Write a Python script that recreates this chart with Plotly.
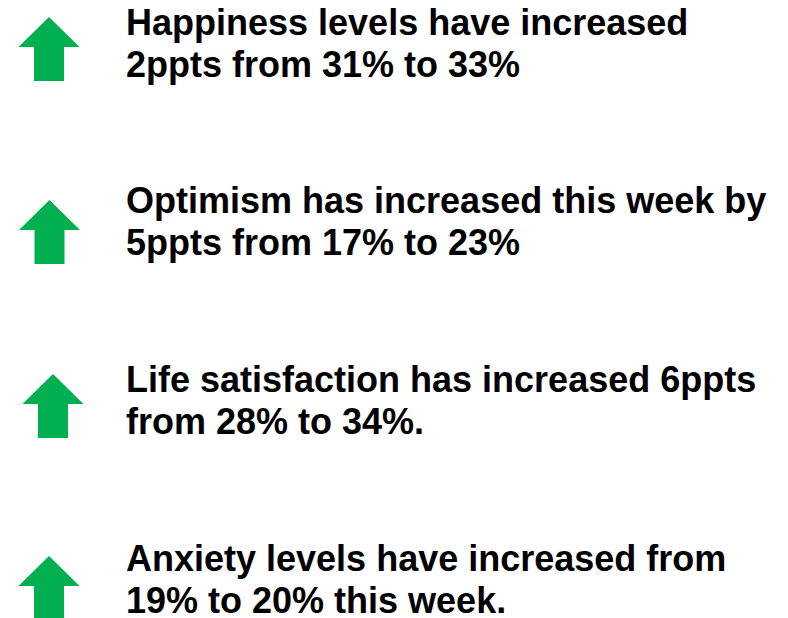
import plotly.graph_objects as go

# Statements and the direction of change shown next to each one
messages = [
    "Happiness levels have increased<br>2ppts from 31% to 33%",
    "Optimism has increased this week by<br>5ppts from 17% to 23%",
    "Life satisfaction has increased 6ppts<br>from 28% to 34%.",
    "Anxiety levels have increased from<br>19% to 20% this week.",
]
directions = ["up", "up", "up", "up"]

GREEN = "#00B050"
W, H = 788, 618

# layout positions (page pixels)
arrow_x = [41, 41.5, 45, 41]
arrow_y = [41, 224, 398, 580]
text_first_line_y = [18, 196, 375, 554]
LINE_PITCH = 42
TEXT_X = 118


def arrow_path(cx, cy, direction):
    # arrow 64px tall, head 61px wide, shaft 30px wide
    half_h, head_w, shaft_w, head_h = 32, 30.5, 15, 30
    s = 1 if direction == "up" else -1
    top = cy - s * half_h
    base = top + s * head_h
    bottom = cy + s * half_h
    xs = [cx, cx + head_w, cx + shaft_w, cx + shaft_w, cx - shaft_w, cx - shaft_w, cx - head_w, cx]
    ys = [top, base, base, bottom, bottom, base, base, top]
    return xs, ys


fig = go.Figure()
for cx, cy, d in zip(arrow_x, arrow_y, directions):
    xs, ys = arrow_path(cx, cy, d)
    fig.add_scatter(x=xs, y=ys, mode="lines", fill="toself", fillcolor=GREEN,
                    line=dict(width=0, color=GREEN), hoverinfo="skip", showlegend=False)

# each message line drawn separately so the line pitch matches the slide
line_texts, line_x, line_y = [], [], []
for msg, y0 in zip(messages, text_first_line_y):
    for i, part in enumerate(msg.split("<br>")):
        line_texts.append(part)
        line_x.append(TEXT_X)
        line_y.append(y0 + i * LINE_PITCH)

fig.add_scatter(x=line_x, y=line_y, mode="text", text=line_texts, textposition="middle right",
                textfont=dict(family="Arial", size=36, color="#000000", weight="bold"),
                hoverinfo="skip", showlegend=False)

fig.update_layout(
    width=W, height=H,
    margin=dict(l=0, r=0, t=0, b=0),
    paper_bgcolor="white", plot_bgcolor="white",
    xaxis=dict(range=[0, W], visible=False, fixedrange=True),
    yaxis=dict(range=[H, 0], visible=False, fixedrange=True),
)
fig.write_html("out.html")
